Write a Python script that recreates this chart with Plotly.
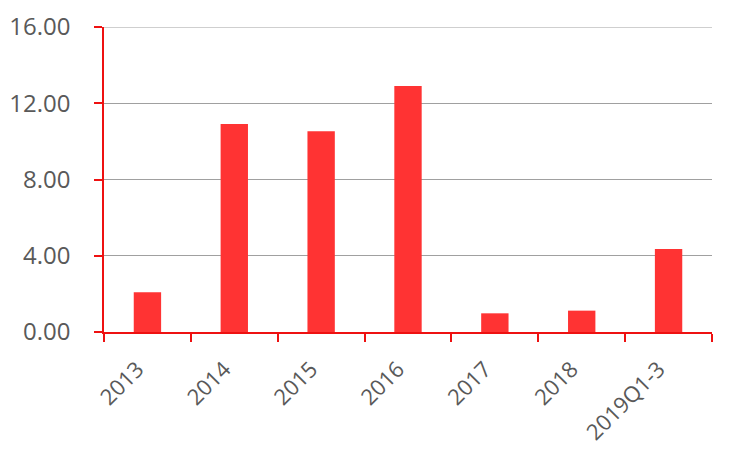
import plotly.graph_objects as go

categories = ["2013", "2014", "2015", "2016", "2017", "2018", "2019Q1-3"]
values = [2.09, 10.91, 10.53, 12.90, 0.98, 1.12, 4.35]
y_ticks = [0, 4, 8, 12, 16]
y_tick_labels = ["0.00", "4.00", "8.00", "12.00", "16.00"]

fig = go.Figure()
fig.add_trace(go.Bar(x=categories, y=values, marker=dict(color="#FF3333", line=dict(width=0)),
                     width=0.315))

fig.update_layout(
    width=735, height=461,
    margin=dict(l=96, r=31, t=19, b=137, autoexpand=False),
    paper_bgcolor="white", plot_bgcolor="white",
    showlegend=False,
    font=dict(family="Open Sans, Liberation Sans, sans-serif", size=24, color="#595959"),
)
fig.update_xaxes(
    type="category", automargin=False,
    showline=True, linecolor="#EE1111", linewidth=1.5,
    ticks="outside", tickson="boundaries", ticklen=8, tickcolor="#EE1111", tickwidth=1.5,
    tickangle=-45, showgrid=False, ticklabelstandoff=14, ticklabelshift=-10,
    tickfont=dict(size=22, color="#595959"),
)
fig.update_yaxes(
    range=[0, 16], tickvals=y_ticks, ticktext=y_tick_labels, automargin=False,
    showline=True, linecolor="#EE1111", linewidth=1.5,
    ticks="outside", ticklen=8, tickcolor="#EE1111", tickwidth=1.5,
    showgrid=True, gridcolor="#A0A0A0", gridwidth=1,
    zeroline=False, ticklabelstandoff=19,
    tickfont=dict(size=24, color="#595959"),
)
fig.add_shape(type="line", xref="paper", yref="y", x0=0, x1=1, y0=16, y1=16,
              line=dict(color="#A0A0A0", width=1), layer="below")

fig.write_html("out.html")
